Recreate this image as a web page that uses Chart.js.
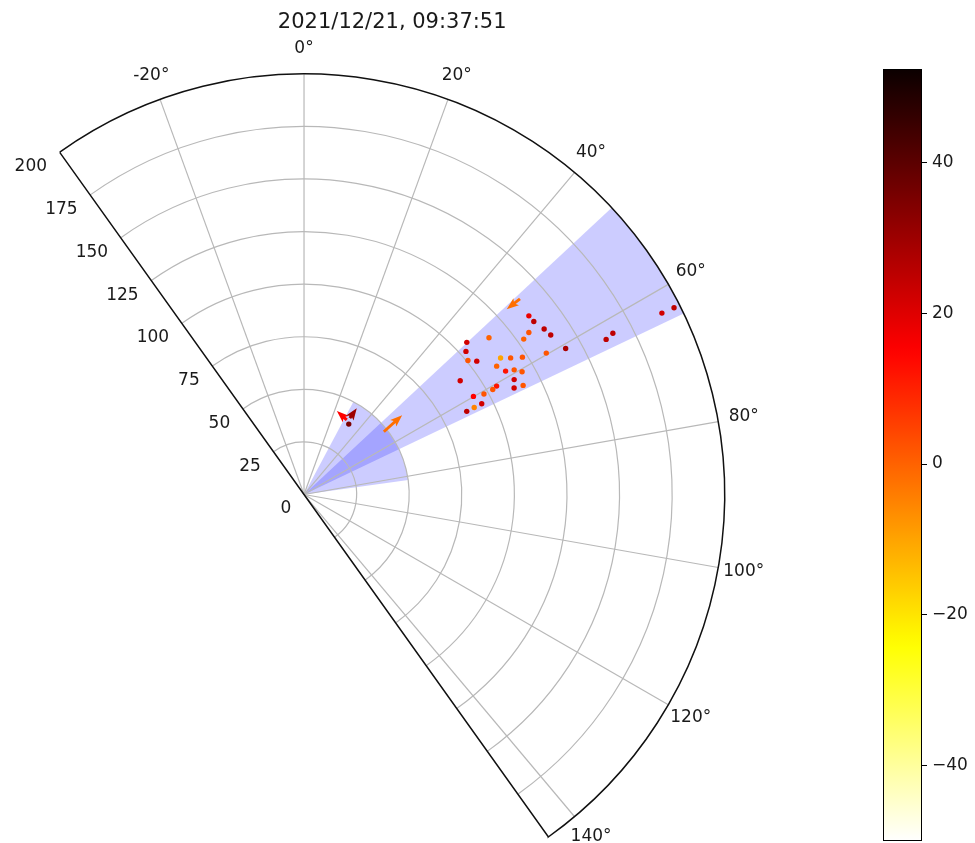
<!DOCTYPE html>
<html>
<head>
<meta charset="utf-8">
<script src="https://cdn.jsdelivr.net/npm/chart.js@4.4.1/dist/chart.umd.min.js"></script>
<style>
  html, body { margin: 0; padding: 0; background: #fff; overflow: hidden; width: 975px; height: 843px; }
  #polar { position: absolute; left: 0; top: 0; }
  #cbar { position: absolute; left: 860px; top: 0; }
</style>
</head>
<body>
<canvas id="polar" width="975" height="843"></canvas>
<canvas id="cbar" width="115" height="870"></canvas>
<script>
// ---- scan description ----
const titleText = '2021/12/21, 09:37:51';
const thetaMin = -35.5;            // degrees, clockwise from north
const thetaMax = 144.5;
const rMax = 200;
const thetaTicks = [-20, 0, 20, 40, 60, 80, 100, 120, 140];
const rTicks = [25, 50, 75, 100, 125, 150, 175];
const rLabels = [0, 25, 50, 75, 100, 125, 150, 175, 200];

// ---- instrument sectors (field of view) ----
const sectorStart = [28, 47];
const sectorEnd = [82, 64.5];
const sectorRange = [50, 200];

// ---- detections: range, azimuth, colour value ----
const echoRange = [136.6, 136.8, 138.7, 139.7, 131.8, 128.0, 133.4, 115.3, 106.0, 102.8,
                   100.7, 103.8, 113.8, 117.8, 122.7, 110.1, 112.4, 116.2, 119.0, 113.9,
                   91.9, 105.1, 102.7, 112.0, 116.4, 98.0, 93.1, 94.9, 90.9, 86.9,
                   142.5, 161.5, 165.7, 190.8, 197.1, 39.7];
const echoAzimuth = [51.5, 53.0, 55.4, 57.1, 54.2, 54.7, 59.7, 49.7, 46.9, 48.5,
                     50.7, 52.3, 55.2, 56.5, 57.8, 56.3, 58.5, 59.3, 60.6, 61.3,
                     53.9, 60.6, 60.9, 63.1, 63.5, 60.8, 59.9, 62.9, 62.9, 62.9,
                     60.8, 62.8, 62.4, 63.1, 63.2, 32.4];
const echoValue = [18, 25, 25, 25, 2, 0, 2, 0, 22, 22,
                   2, 22, -10, 2, 2, 0, 12, 2, 2, 22,
                   22, 12, 2, 22, 2, 2, 15, 22, -5, 25,
                   28, 25, 25, 22, 25, 35];

// ---- motion vectors: origin (range, azimuth), east/north components, colour value ----
const vecRange = [138.6, 48.3, 40.9, 42.4];
const vecAzimuth = [47.8, 51.8, 29.8, 30.9];
const vecEast = [-6.3, 8.7, -4.7, 3.3];
const vecNorth = [-4.9, 7.9, 4.3, 4.7];
const vecValue = [-2, -2, 15, 30];

// ---- colour scale ----
const cbMin = -50;
const cbMax = 52.4;
const cbTicks = [-40, -20, 0, 20, 40];

// ---- layout constants (pixels) ----
const CX = 303, CY = 495, RPIX = 423;
const W = 975, H = 843;
const unitPx = RPIX / rMax;
const FONT = "'DejaVu Sans', 'Liberation Sans', sans-serif";

function hotR(v) {
  let t = (v - cbMin) / (cbMax - cbMin);
  t = Math.min(1, Math.max(0, t));
  const x = 1 - t;
  const k1 = 0.365079, k2 = 0.746032;
  const r = x < k1 ? 0.0416 + (1 - 0.0416) * x / k1 : 1;
  const g = x < k1 ? 0 : (x < k2 ? (x - k1) / (k2 - k1) : 1);
  const b = x < k2 ? 0 : (x - k2) / (1 - k2);
  return 'rgb(' + Math.round(r * 255) + ',' + Math.round(g * 255) + ',' + Math.round(b * 255) + ')';
}

const rad = d => d * Math.PI / 180;
const toXY = (r, az) => ({ x: r * Math.sin(rad(az)), y: r * Math.cos(rad(az)) });

const echoPoints = echoRange.map((r, i) => toXY(r, echoAzimuth[i]));
const echoColors = echoValue.map(hotR);

// polar frame, sectors, grid and labels drawn through the cartesian scales
const polarFrame = {
  id: 'polarFrame',
  beforeDatasetsDraw(chart) {
    const ctx = chart.ctx;
    const xs = chart.scales.x, ys = chart.scales.y;
    const cx = xs.getPixelForValue(0), cy = ys.getPixelForValue(0);
    const u = xs.getPixelForValue(1) - cx;
    const px = (r, az) => {
      const p = toXY(r, az);
      return { x: xs.getPixelForValue(p.x), y: ys.getPixelForValue(p.y) };
    };
    const ang = az => rad(az - 90);
    ctx.save();

    // sectors
    ctx.fillStyle = 'rgba(0,0,255,0.2)';
    sectorStart.forEach((a0, i) => {
      ctx.beginPath();
      ctx.moveTo(cx, cy);
      ctx.arc(cx, cy, sectorRange[i] * u, ang(a0), ang(sectorEnd[i]));
      ctx.closePath();
      ctx.fill();
    });

    // grid
    ctx.strokeStyle = '#b8b8b8';
    ctx.lineWidth = 1.2;
    rTicks.forEach(r => {
      ctx.beginPath();
      ctx.arc(cx, cy, r * u, ang(thetaMin), ang(thetaMax));
      ctx.stroke();
    });
    thetaTicks.forEach(a => {
      const p = px(rMax, a);
      ctx.beginPath();
      ctx.moveTo(cx, cy);
      ctx.lineTo(p.x, p.y);
      ctx.stroke();
    });

    // frame
    ctx.strokeStyle = '#111';
    ctx.lineWidth = 1.5;
    const p0 = px(rMax, thetaMin);
    ctx.beginPath();
    ctx.moveTo(p0.x, p0.y);
    ctx.lineTo(cx, cy);
    const p1 = px(rMax, thetaMax);
    ctx.lineTo(p1.x, p1.y);
    ctx.arc(cx, cy, rMax * u, ang(thetaMax), ang(thetaMin), true);
    ctx.stroke();

    // angle labels
    ctx.fillStyle = '#1a1a1a';
    ctx.font = '17px ' + FONT;
    ctx.textAlign = 'center';
    ctx.textBaseline = 'middle';
    thetaTicks.forEach(a => {
      const p = px(rMax + 12.3, a);
      ctx.fillText(a + '\u00b0', p.x, p.y);
    });

    // range labels along the left edge
    ctx.textAlign = 'right';
    rLabels.forEach(r => {
      const p = px(r, thetaMin);
      ctx.fillText(String(r), p.x - 12.7, p.y + 14.5);
    });

    // title
    ctx.font = '21px ' + FONT;
    ctx.textAlign = 'center';
    ctx.textBaseline = 'alphabetic';
    const left = px(rMax, thetaMin).x, right = px(rMax, 90).x;
    ctx.fillText(titleText, (left + right) / 2, 28);
    ctx.restore();
  },
  afterDatasetsDraw(chart) {
    const ctx = chart.ctx;
    const xs = chart.scales.x, ys = chart.scales.y;
    ctx.save();
    vecRange.forEach((r, i) => {
      const o = toXY(r, vecAzimuth[i]);
      const x0 = xs.getPixelForValue(o.x), y0 = ys.getPixelForValue(o.y);
      const x1 = xs.getPixelForValue(o.x + vecEast[i]), y1 = ys.getPixelForValue(o.y + vecNorth[i]);
      const dx = x1 - x0, dy = y1 - y0;
      const L = Math.hypot(dx, dy);
      const ux = dx / L, uy = dy / L, nx = -uy, ny = ux;
      const w = 3, hw = 9;
      const hl = Math.min(12, L), hal = hl * 0.85;
      const pts = [
        [0, w / 2], [L - hal, w / 2], [L - hl, hw / 2], [L, 0],
        [L - hl, -hw / 2], [L - hal, -w / 2], [0, -w / 2]
      ];
      ctx.beginPath();
      pts.forEach(([a, b], k) => {
        const X = x0 + ux * a + nx * b, Y = y0 + uy * a + ny * b;
        if (k === 0) ctx.moveTo(X, Y); else ctx.lineTo(X, Y);
      });
      ctx.closePath();
      ctx.fillStyle = hotR(vecValue[i]);
      ctx.fill();
    });
    ctx.restore();
  }
};

new Chart(document.getElementById('polar'), {
  type: 'scatter',
  data: {
    datasets: [{
      data: echoPoints,
      pointRadius: 2.7,
      pointBorderWidth: 0,
      pointBackgroundColor: echoColors,
      pointHoverRadius: 2.7
    }]
  },
  options: {
    responsive: false,
    animation: false,
    events: [],
    layout: { padding: 0 },
    plugins: { legend: { display: false }, tooltip: { enabled: false }, title: { display: false } },
    scales: {
      x: { display: false, min: -CX / unitPx, max: (W - CX) / unitPx },
      y: { display: false, min: (CY - H) / unitPx, max: CY / unitPx }
    }
  },
  plugins: [polarFrame]
});

// colour bar
const colorBar = {
  id: 'colorBar',
  beforeDatasetsDraw(chart) {
    const ctx = chart.ctx;
    const a = chart.chartArea;
    const g = ctx.createLinearGradient(0, a.bottom, 0, a.top);
    const N = 64;
    for (let i = 0; i <= N; i++) {
      g.addColorStop(i / N, hotR(cbMin + (cbMax - cbMin) * i / N));
    }
    ctx.save();
    ctx.fillStyle = g;
    ctx.fillRect(a.left, a.top, a.right - a.left, a.bottom - a.top);
    ctx.strokeStyle = '#000';
    ctx.lineWidth = 1;
    ctx.strokeRect(a.left + 0.5, a.top + 0.5, a.right - a.left - 1, a.bottom - a.top - 1);
    ctx.restore();
  }
};

new Chart(document.getElementById('cbar'), {
  type: 'scatter',
  data: { datasets: [] },
  options: {
    responsive: false,
    animation: false,
    events: [],
    layout: { padding: { left: 23, top: 69, bottom: 29, right: 0 } },
    plugins: { legend: { display: false }, tooltip: { enabled: false } },
    scales: {
      x: { display: false },
      y: {
        position: 'right',
        min: cbMin,
        max: cbMax,
        afterBuildTicks: s => { s.ticks = cbTicks.map(v => ({ value: v })); },
        afterFit: s => { s.width = 53; },
        grid: { drawOnChartArea: false, drawTicks: true, tickLength: 5, tickColor: '#000', tickWidth: 1 },
        border: { display: false },
        ticks: {
          color: '#1a1a1a',
          padding: 5,
          font: { family: 'DejaVu Sans', size: 17 },
          callback: v => v < 0 ? '\u2212' + Math.abs(v) : String(v)
        }
      }
    }
  },
  plugins: [colorBar]
});
</script>
</body>
</html>
